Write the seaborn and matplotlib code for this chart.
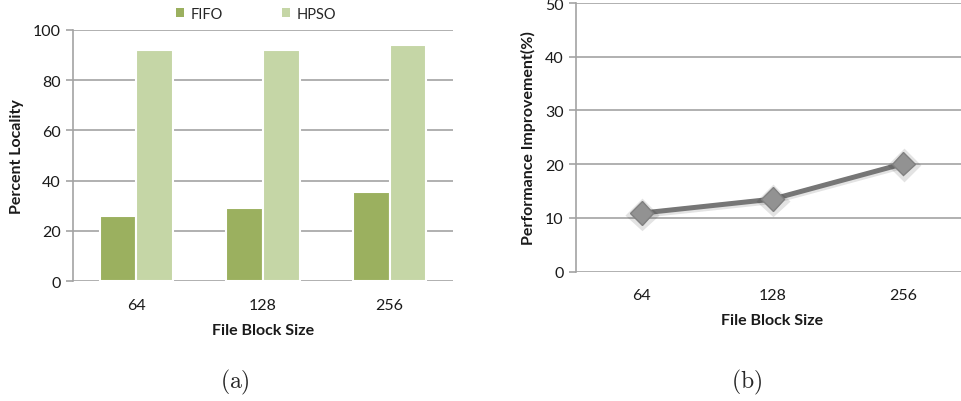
import matplotlib
matplotlib.use("Agg")
import matplotlib.pyplot as plt
import matplotlib.patheffects as pe
import seaborn as sns
import pandas as pd

# Data
block_sizes = ["64", "128", "256"]
fifo_locality = [26, 29, 35.5]
hpso_locality = [92, 92, 94]
perf_improvement = [10.9, 13.5, 20.1]

sns.set_theme(style="white")
plt.rcParams["font.family"] = ["Lato", "DejaVu Sans"]
plt.rcParams["mathtext.fontset"] = "cm"

GRID = "#a3a3a3"
TXT = "#1a1a1a"
LABEL_FS = 11.5
TICK_FS = 11.5

fig = plt.figure(figsize=(9.62, 4.02), dpi=100)
ax1 = fig.add_axes([73 / 962, 120 / 402, 380 / 962, 251 / 402])
ax2 = fig.add_axes([576 / 962, 129.3 / 402, 393 / 962, 268.7 / 402])

# (a) grouped bars
bars = pd.DataFrame({
    "size": block_sizes * 2,
    "scheme": ["FIFO"] * 3 + ["HPSO"] * 3,
    "value": fifo_locality + hpso_locality,
})
sns.barplot(data=bars, x="size", y="value", hue="scheme", order=block_sizes,
            palette={"FIFO": "#9bb05f", "HPSO": "#c5d6a6"},
            width=0.58, saturation=1, edgecolor="white", linewidth=1.5,
            ax=ax1, zorder=3)
ax1.set_ylim(0, 100)
ax1.set_yticks(range(0, 101, 20))
ax1.set_xlim(-0.5, 2.5)
ax1.set_xlabel("File Block Size", fontsize=LABEL_FS, fontweight="bold", color=TXT, labelpad=8)
ax1.set_ylabel("Percent Locality", fontsize=LABEL_FS, fontweight="bold", color=TXT, labelpad=6)

leg = ax1.legend(loc="center", bbox_to_anchor=(256 / 962, 1 - 15 / 402),
                 bbox_transform=fig.transFigure, ncol=2, frameon=False,
                 handlelength=0.55, handleheight=0.55, columnspacing=4.0,
                 handletextpad=0.5, fontsize=10.5)
for h in leg.legend_handles:
    h.set_edgecolor("none")

# (b) improvement line
line = pd.DataFrame({"size": block_sizes, "value": perf_improvement})
sns.lineplot(data=line, x="size", y="value", sort=False, color="#767676",
             linewidth=3.6, marker="D", markersize=12,
             markerfacecolor="#929292", markeredgecolor="#808080",
             markeredgewidth=1, ax=ax2, zorder=4,
             path_effects=[pe.SimpleLineShadow(offset=(0.5, -1), alpha=0.12,
                                               linewidth=5), pe.Normal()])
ax2.set_ylim(0, 50)
ax2.set_yticks(range(0, 51, 10))
ax2.set_xlim(-0.5, 2.5)
ax2.set_xlabel("File Block Size", fontsize=LABEL_FS, fontweight="bold", color=TXT, labelpad=8)
ax2.set_ylabel("Performance Improvement(%)", fontsize=LABEL_FS, fontweight="bold", color=TXT, labelpad=6)

for ax in (ax1, ax2):
    ax.grid(axis="y", color=GRID, linewidth=1.2, zorder=0)
    ax.set_axisbelow(True)
    for s in ("top", "right", "bottom"):
        ax.spines[s].set_visible(False)
    ax.spines["left"].set_color(GRID)
    ax.spines["left"].set_linewidth(1.2)
    ax.tick_params(axis="y", length=5, width=1.2, color=GRID, labelsize=TICK_FS,
                   labelcolor=TXT, pad=4, left=True)
    ax.tick_params(axis="x", length=0, labelsize=TICK_FS, labelcolor=TXT, pad=12)

fig.text(235 / 962, 1 - 382 / 402, r"$\mathrm{(a)}$", ha="center", va="center", fontsize=17)
fig.text(747 / 962, 1 - 382 / 402, r"$\mathrm{(b)}$", ha="center", va="center", fontsize=17)

fig.savefig("out.png", dpi=100)
